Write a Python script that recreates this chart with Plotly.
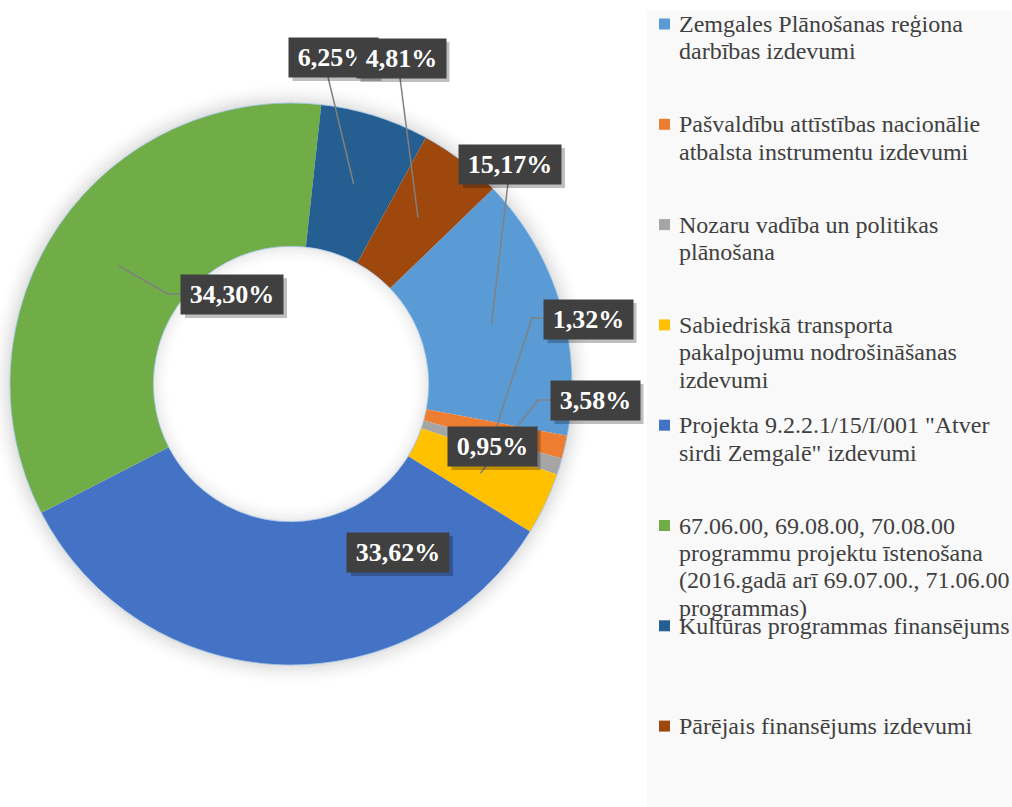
import math
import plotly.graph_objects as go

# ---------------- data ----------------
categories = [
    "Zemgales Plānošanas reģiona darbības izdevumi",
    "Pašvaldību attīstības nacionālie atbalsta instrumentu izdevumi",
    "Nozaru vadība un politikas plānošana",
    "Sabiedriskā transporta pakalpojumu nodrošināšanas izdevumi",
    "Projekta 9.2.2.1/15/I/001 \"Atver sirdi Zemgalē\" izdevumi",
    "67.06.00, 69.08.00, 70.08.00 programmu projektu īstenošana (2016.gadā arī 69.07.00., 71.06.00 programmas)",
    "Kultūras programmas finansējums",
    "Pārējais finansējums izdevumi",
]
values = [15.17, 1.32, 0.95, 3.58, 33.62, 34.30, 6.25, 4.81]
legend_lines = [
    ["Zemgales Plānošanas reģiona", "darbības izdevumi"],
    ["Pašvaldību attīstības nacionālie", "atbalsta instrumentu izdevumi"],
    ["Nozaru vadība un politikas", "plānošana"],
    ["Sabiedriskā transporta", "pakalpojumu nodrošināšanas", "izdevumi"],
    ["Projekta 9.2.2.1/15/I/001 \"Atver", "sirdi Zemgalē\" izdevumi"],
    ["67.06.00, 69.08.00, 70.08.00", "programmu projektu īstenošana",
     "(2016.gadā arī 69.07.00., 71.06.00", "programmas)"],
    ["Kultūras programmas finansējums"],
    ["Pārējais finansējums izdevumi"],
]

# ---------------- styles / layout ----------------
colors = ["#5B9BD5", "#ED7D31", "#A5A5A5", "#FFC000",
          "#4472C4", "#70AD47", "#255E91", "#9E480E"]
W, H = 1012, 807
CX, CY, R_OUT = 291, 384, 281
HOLE = 0.49
R_IN = R_OUT * HOLE
ROTATION = 46

# label box centres (px) and leader start/elbow points (px)
label_pos = [(510, 164), (588, 319), (492, 446), (595, 400),
             (398, 552), (232, 294), (333, 57), (401, 58)]
leader_pts = [[(508, 183)], [(543, 318), (532, 318)], None,
              [(550, 400), (538, 400)], None,
              [(180, 294), (168, 294)], [(328, 77)], [(400, 78)]]
draw_order = [0, 1, 3, 2, 4, 5, 6, 7]
BOX_PAD, BOX_HALF_H, SHADOW = 5, 20, 4

LEG_X_MARK, LEG_X_TEXT = 659, 677
LEG_Y0, LEG_STEP, LEG_LINE = 24, 100.3, 27.4


def px(x):
    return x / W


def py(y):
    return 1 - y / H


fig = go.Figure()
fig.add_trace(go.Pie(
    labels=categories, values=values, sort=False, direction="clockwise",
    rotation=ROTATION, hole=HOLE, textinfo="none", hoverinfo="label+percent",
    marker=dict(colors=colors, line=dict(width=0)), showlegend=False,
    domain=dict(x=[px(CX - R_OUT), px(CX + R_OUT)],
                y=[py(CY + R_OUT), py(CY - R_OUT)]),
))

shapes = []
# legend background
shapes.append(dict(type="rect", xref="paper", yref="paper",
                   x0=px(647), x1=1, y0=0, y1=py(11),
                   fillcolor="#f9f9f9", line=dict(width=0), layer="below"))


def ring(r, w, color, layer="below"):
    return dict(type="circle", xref="paper", yref="paper",
                x0=px(CX - r), x1=px(CX + r), y0=py(CY + r), y1=py(CY - r),
                line=dict(color=color, width=w), fillcolor="rgba(0,0,0,0)",
                layer=layer)


# soft outer shadow and inner hole shadow
for k in range(10):
    a = 0.10 * (1 - k / 10) ** 1.6
    shapes.append(ring(R_OUT + 1 + 2 * k, 2.2, f"rgba(0,0,0,{a:.4f})"))
for k in range(8):
    a = 0.07 * (1 - k / 8) ** 1.6
    shapes.append(ring(R_IN - 1 - 2 * k, 2.2, f"rgba(0,0,0,{a:.4f})"))
shapes.append(ring(R_OUT, 1, "rgba(157,195,230,0.8)", "above"))
shapes.append(ring(R_IN, 1, "rgba(157,195,230,0.8)", "above"))

# leader lines to slice middles (angles from data)
total = sum(values)
start = 0.0
tips = []
for v in values:
    mid = math.radians(ROTATION + (start + v / 2) / total * 360)
    rm = (R_OUT + R_IN) / 2
    tips.append((CX + rm * math.sin(mid), CY - rm * math.cos(mid)))
    start += v

for i, pts in enumerate(leader_pts):
    if not pts:
        continue
    path = pts + [tips[i]]
    for (x0, y0), (x1, y1) in zip(path[:-1], path[1:]):
        shapes.append(dict(type="line", xref="paper", yref="paper",
                           x0=px(x0), y0=py(y0), x1=px(x1), y1=py(y1),
                           line=dict(color="#808080", width=1.5), layer="above"))

# legend markers
for i in range(len(categories)):
    yc = LEG_Y0 + i * LEG_STEP
    shapes.append(dict(type="rect", xref="paper", yref="paper",
                       x0=px(LEG_X_MARK), x1=px(LEG_X_MARK + 11),
                       y0=py(yc + 5.5), y1=py(yc - 5.5),
                       fillcolor=colors[i], line=dict(width=0), layer="above"))

annotations = []
# data labels (with drop-shadow rectangles)
for i in draw_order:
    label = f"{values[i]:.2f}%".replace(".", ",")
    ndig = sum(ch.isdigit() for ch in label)
    tw = 13 * ndig + 40
    x, y = label_pos[i]
    hw = tw / 2 + BOX_PAD
    shapes.append(dict(type="rect", xref="paper", yref="paper",
                       x0=px(x - hw + SHADOW), x1=px(x + hw + SHADOW),
                       y0=py(y + BOX_HALF_H + SHADOW),
                       y1=py(y - BOX_HALF_H + SHADOW),
                       fillcolor="rgba(0,0,0,0.25)", line=dict(width=0),
                       layer="above"))
    annotations.append(dict(text=f"<b>{label}</b>", xref="paper", yref="paper",
                            x=px(x), y=py(y), xanchor="center",
                            yanchor="middle", showarrow=False,
                            borderpad=BOX_PAD, width=tw, align="center",
                            font=dict(family="Liberation Serif", size=26,
                                      color="white"),
                            bgcolor="#404040"))

# legend texts
for i, lines in enumerate(legend_lines):
    for j, line in enumerate(lines):
        annotations.append(dict(
            text=line, xref="paper", yref="paper",
            x=px(LEG_X_TEXT), y=py(LEG_Y0 + i * LEG_STEP + j * LEG_LINE),
            xanchor="left", yanchor="middle", showarrow=False,
            font=dict(family="Liberation Serif", size=24, color="#404040")))

fig.update_layout(
    width=W, height=H, autosize=False,
    margin=dict(l=0, r=0, t=0, b=0),
    paper_bgcolor="white", plot_bgcolor="white",
    shapes=shapes, annotations=annotations,
    showlegend=False,
)

fig.write_html("out.html", config={"displayModeBar": False},
               post_script="document.body.style.margin='0';")
